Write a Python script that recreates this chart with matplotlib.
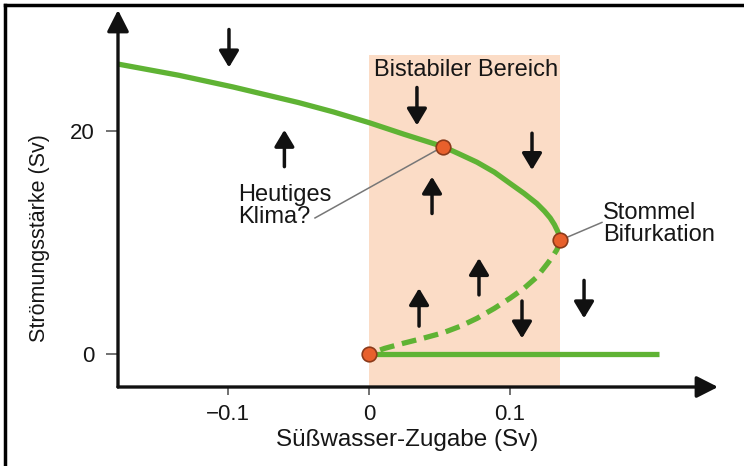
import matplotlib
matplotlib.use("Agg")
import matplotlib.pyplot as plt
from matplotlib.lines import Line2D

plt.rcParams['font.family'] = ['Liberation Sans', 'DejaVu Sans']

# ---- data ----
upper_x = [-0.178, -0.135, -0.0965, -0.050, -0.025, 0.0, 0.025, 0.0525, 0.063, 0.0766,
           0.089, 0.100, 0.110, 0.119, 0.1245, 0.1285, 0.1315, 0.1338, 0.1350, 0.1355]
upper_y = [26.0, 25.0, 23.95, 22.55, 21.7, 20.75, 19.7, 18.6, 18.0, 17.2,
           16.3, 15.3, 14.4, 13.5, 12.8, 12.2, 11.6, 11.0, 10.6, 10.2]

unstable_x = [0.1355, 0.1348, 0.1330, 0.1300, 0.1265, 0.119, 0.110, 0.100, 0.089, 0.0766,
              0.065, 0.0525, 0.038, 0.024, 0.011, 0.0]
unstable_y = [10.2, 9.8, 9.3, 8.7, 8.1, 6.9, 5.9, 5.0, 4.1, 3.2,
              2.5, 1.9, 1.4, 0.95, 0.5, 0.0]

lower_x = [0.0, 0.206]
lower_y = [0.0, 0.0]

points_x = [0.0525, 0.1355, 0.0]
points_y = [18.6, 10.2, 0.0]

bistable_x = [0.0, 0.1355]
bistable_top = 26.8

xtick_vals = [-0.1, 0.0, 0.1]
xtick_labels = ['\u22120.1', '0', '0.1']
ytick_vals = [0, 20]
ytick_labels = ['0', '20']

# flow-direction arrows: (x, y_start, y_end)
flow_arrows = [
    (-0.0993, 29.1, 25.7),
    (-0.060, 16.8, 20.1),
    (0.034, 23.9, 20.5),
    (0.1156, 19.8, 16.5),
    (0.0447, 12.6, 15.9),
    (0.0355, 2.5, 5.9),
    (0.078, 5.3, 8.6),
    (0.1085, 4.75, 1.4),
    (0.1525, 6.6, 3.2),
]

# ---- figure ----
W, H = 744, 466
fig = plt.figure(figsize=(W / 100, H / 100), dpi=100)
ax = fig.add_axes([118 / W, 1 - 387 / H, (718 - 118) / W, (387 - 10) / H])
ax.set_xlim(-0.178, 0.2475)
ax.set_ylim(-2.96, 30.85)

for s in ax.spines.values():
    s.set_visible(False)

green = '#5fb334'
peach = '#fbdcc6'
txt = '#161616'

ax.fill_between(bistable_x, -2.96, bistable_top, color=peach, lw=0, zorder=0)

ax.plot(lower_x, lower_y, color=green, lw=3.8, solid_capstyle='butt', zorder=2)
ax.plot(upper_x, upper_y, color=green, lw=3.8, solid_capstyle='butt',
        solid_joinstyle='round', zorder=2)
ax.plot(unstable_x, unstable_y, color=green, lw=3.8, dashes=(2.8, 1.5),
        dash_joinstyle='round', zorder=2)

# leader lines
ax.plot([0.0525, -0.0383], [18.6, 12.2], color='#777777', lw=1.1, zorder=1)
ax.plot([0.1355, 0.1652], [10.2, 11.8], color='#777777', lw=1.1, zorder=1)

ax.plot(points_x, points_y, 'o', ms=10.5, mfc='#e8602c', mec='#8b3a1a', mew=1.2, zorder=4)

for (x, y0, y1) in flow_arrows:
    ax.annotate('', xy=(x, y1), xytext=(x, y0),
                arrowprops=dict(arrowstyle='-|>,head_length=0.5,head_width=0.3',
                                mutation_scale=20, lw=2.5, color='#111111',
                                shrinkA=0, shrinkB=0), zorder=3)

# axes with arrow heads
for xy in [(0, 1.0), (1.0, 0)]:
    ax.annotate('', xy=xy, xytext=(0, 0), xycoords='axes fraction', textcoords='axes fraction',
                arrowprops=dict(arrowstyle='-|>,head_length=0.65,head_width=0.33',
                                mutation_scale=20, lw=2.4, color='#111111',
                                shrinkA=0, shrinkB=0), annotation_clip=False, zorder=5)

ax.set_xticks(xtick_vals)
ax.set_xticklabels(xtick_labels)
ax.set_yticks(ytick_vals)
ax.set_yticklabels(ytick_labels)
ax.tick_params(axis='x', direction='out', length=6, width=1.3, color='#666666',
               labelsize=16, labelcolor=txt, pad=6)
ax.tick_params(axis='y', direction='out', length=9, width=1.3, color='#666666',
               labelsize=16, labelcolor=txt, pad=8)

ax.text(0.069, 25.5, 'Bistabiler Bereich', fontsize=17, color=txt, ha='center', va='center')
ax.text(-0.0929, 13.3, 'Heutiges\nKlima?', fontsize=17, color=txt, ha='left', va='center',
        linespacing=1.0)
ax.text(0.166, 11.66, 'Stommel\nBifurkation', fontsize=17, color=txt, ha='left', va='center',
        linespacing=1.0)

fig.text(40 / W, 1 - 238 / H, 'Strömungsstärke (Sv)', rotation=90, fontsize=15.5,
         color=txt, ha='center', va='center')
fig.text(407 / W, 1 - 440 / H, 'Süßwasser-Zugabe (Sv)', fontsize=17.5,
         color=txt, ha='center', va='center')

# frame (left and top edges)
fig.add_artist(Line2D([5 / W, 5 / W], [0, 1 - 5 / H], color='black', lw=2.5, transform=fig.transFigure))
fig.add_artist(Line2D([5 / W, 1], [1 - 5 / H, 1 - 5 / H], color='black', lw=2.5, transform=fig.transFigure))

fig.savefig('out.png', dpi=100)
